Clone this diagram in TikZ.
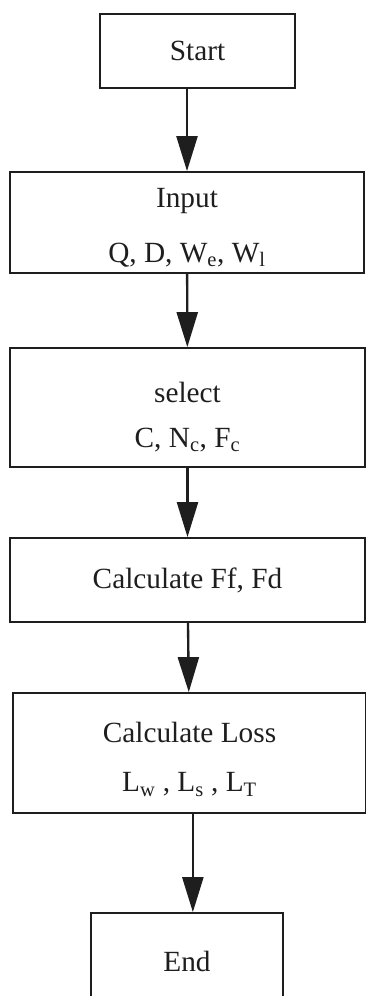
\documentclass[tikz,border=0pt]{standalone}
\usepackage{fontspec}
\setmainfont{Liberation Serif}
\usetikzlibrary{arrows.meta,positioning}
\definecolor{ink}{RGB}{30,30,30}
\tikzset{
  blk/.style={draw=ink,text=ink,line width=1.5pt,align=center,font=\fontsize{25}{30}\selectfont,inner sep=0pt},
  two/.style={text height=#1},
  arr/.style={-{Triangle[length=10.5mm,width=6.3mm]},draw=ink,fill=ink,line width=2pt}
}
\begin{document}
\begin{tikzpicture}[x=0.03cm,y=-0.03cm]
\clip (0,0) rectangle (366,996);
\node[blk,minimum width=5.85cm,minimum height=2.22cm] (start) at (197.5,51) {Start};
\node[blk,two=72pt,minimum width=10.62cm,minimum height=3.03cm] (input) at (187,222.5) {Input\\[17pt] Q, D, W\textsubscript{e}, W\textsubscript{l}};
\node[blk,two=72pt,minimum width=10.65cm,minimum height=3.57cm] (sel) at (187.5,407.5) {select\\[8pt] C, N\textsubscript{c}, F\textsubscript{c}};
\node[blk,minimum width=10.65cm,minimum height=2.52cm] (calcf) at (187.5,580) {Calculate Ff, Fd};
\node[blk,two=70pt,minimum width=10.59cm,minimum height=3.6cm] (loss) at (189.5,753) {Calculate Loss\\[12pt] L\textsubscript{w} , L\textsubscript{s} , L\textsubscript{T}};
\node[blk,minimum width=5.76cm,minimum height=2.91cm] (end) at (187,961.5) {End};
\draw[arr] (input.north |- start.south) -- (input.north);
\draw[arr] (input) -- (sel);
\draw[arr] (sel) -- (calcf);
\draw[arr] (calcf) -- (loss);
\draw[arr] ([xshift=5pt]end.north |- loss.south) -- ([xshift=5pt]end.north);
\end{tikzpicture}
\end{document}
